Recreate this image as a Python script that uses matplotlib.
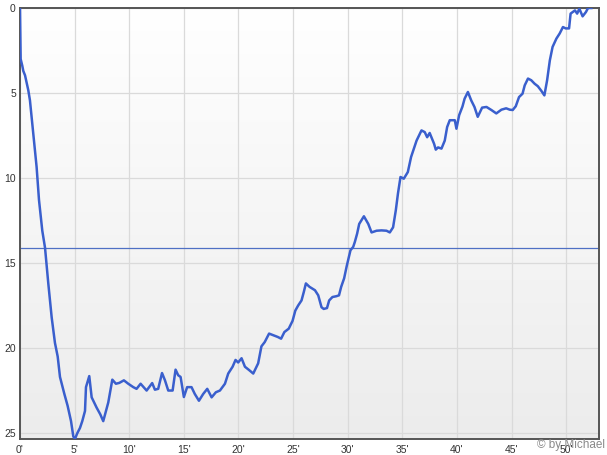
"""
Spielverlauf-Kurve (Minute gegen Rang), Nachbau
"""

import numpy as np
import matplotlib
matplotlib.use("Agg")
import matplotlib.pyplot as plt
from matplotlib.colors import LinearSegmentedColormap

# Minuten und Werte
minutes = [
    0.0, 0.03, 0.06, 0.21, 0.3, 0.46, 0.76, 0.91, 1.22, 1.52, 1.74, 2.04, 2.29,
    2.59, 2.9, 3.2, 3.45, 3.66, 4.06, 4.36, 4.67, 4.88, 5.03, 5.25, 5.49, 5.7,
    5.95, 6.04, 6.34, 6.56, 7.01, 7.35, 7.62, 8.08, 8.45, 8.78, 9.09, 9.51,
    9.91, 10.37, 10.67, 11.04, 11.59, 12.1, 12.35, 12.65, 13.0, 13.27, 13.57,
    13.97, 14.24, 14.48, 14.7, 15.0, 15.3, 15.7, 16.0, 16.38, 16.77, 17.14,
    17.54, 17.93, 18.3, 18.76, 19.06, 19.46, 19.73, 19.97, 20.28, 20.59, 20.98,
    21.35, 21.8, 22.1, 22.4, 22.8, 23.2, 23.6, 23.9, 24.2, 24.6, 24.95, 25.2,
    25.46, 25.77, 25.98, 26.17, 26.5, 27.0, 27.3, 27.6, 27.8, 28.1, 28.3, 28.6,
    28.97, 29.2, 29.4, 29.67, 29.9, 30.1, 30.25, 30.5, 30.65, 30.86, 31.05,
    31.48, 31.88, 32.18, 32.64, 33.09, 33.55, 33.85, 34.15, 34.4, 34.6, 34.83,
    35.13, 35.5, 35.8, 36.3, 36.75, 37.05, 37.27, 37.5, 37.9, 38.06, 38.27,
    38.58, 38.88, 39.1, 39.34, 39.8, 39.95, 40.2, 40.5, 40.7, 41.0, 41.3, 41.6,
    41.9, 42.3, 42.7, 43.15, 43.6, 44.07, 44.5, 44.83, 45.1, 45.38, 45.68,
    46.0, 46.2, 46.5, 46.8, 47.1, 47.4, 47.73, 48.0, 48.25, 48.5, 48.75, 49.1,
    49.4, 49.7, 49.95, 50.26, 50.4, 50.8, 51.0, 51.2, 51.5, 51.8, 52.0, 52.3,
]
values = [
    0.0, 1.5, 3.0, 3.4, 3.7, 3.96, 4.84, 5.43, 7.39, 9.35, 11.3, 13.1, 14.1,
    16.2, 18.2, 19.7, 20.5, 21.7, 22.7, 23.4, 24.3, 25.2, 25.35, 25.0, 24.7,
    24.3, 23.7, 22.3, 21.65, 22.9, 23.5, 23.9, 24.3, 23.2, 21.86, 22.1, 22.05,
    21.9, 22.1, 22.3, 22.4, 22.1, 22.5, 22.06, 22.45, 22.4, 21.47, 21.9, 22.5,
    22.5, 21.27, 21.6, 21.7, 22.88, 22.3, 22.3, 22.7, 23.1, 22.7, 22.4, 22.9,
    22.6, 22.5, 22.1, 21.5, 21.1, 20.7, 20.85, 20.6, 21.1, 21.3, 21.5, 20.9,
    19.9, 19.65, 19.15, 19.25, 19.35, 19.45, 19.06, 18.86, 18.4, 17.8, 17.5,
    17.2, 16.7, 16.2, 16.4, 16.6, 16.9, 17.6, 17.7, 17.65, 17.2, 17.0, 16.95,
    16.9, 16.4, 15.9, 15.2, 14.65, 14.25, 14.05, 13.76, 13.27, 12.7, 12.25,
    12.7, 13.2, 13.1, 13.08, 13.1, 13.2, 12.9, 11.9, 10.9, 9.94, 10.04, 9.65,
    8.76, 7.8, 7.2, 7.3, 7.6, 7.35, 7.98, 8.33, 8.2, 8.27, 7.8, 7.0, 6.6, 6.6,
    7.1, 6.3, 5.8, 5.33, 4.94, 5.43, 5.82, 6.4, 5.86, 5.82, 6.0, 6.2, 5.98,
    5.9, 5.98, 6.0, 5.78, 5.24, 5.04, 4.55, 4.15, 4.25, 4.45, 4.6, 4.88, 5.14,
    4.25, 3.08, 2.29, 1.8, 1.5, 1.12, 1.2, 1.2, 0.33, 0.14, 0.33, 0.04, 0.49,
    0.24, 0.0, 0.0,
]
mean_value = 14.12

x_ticks = [0, 5, 10, 15, 20, 25, 30, 35, 40, 45, 50]
x_labels = ["0'", "5'", "10'", "15'", "20'", "25'", "30'", "35'", "40'", "45'", "50'"]
y_ticks = [0, 5, 10, 15, 20, 25]
y_labels = ["0", "5", "10", "15", "20", "25"]

plt.rcParams['font.family'] = ['Liberation Sans', 'DejaVu Sans']

fig = plt.figure(figsize=(6.07, 4.55), dpi=100)
ax = fig.add_axes([20 / 607, 1 - 439 / 455, 579 / 607, 431 / 455])

x_min, x_max = 0, 53.0
y_top, y_bottom = 0, 25.35

# Hintergrund: Verlauf von weiss (oben) nach hellgrau (unten)
grad = np.linspace(0, 1, 256).reshape(-1, 1)
cmap = LinearSegmentedColormap.from_list("bg", ["#ffffff", "#ececec"])
ax.imshow(grad, cmap=cmap, aspect='auto', extent=[x_min, x_max, y_bottom, y_top],
          zorder=0, interpolation='bilinear')

for xt in x_ticks:
    ax.axvline(xt, color='#dadada', linewidth=0.9, zorder=1)
for yt in y_ticks:
    ax.axhline(yt, color='#dadada', linewidth=0.9, zorder=1)

ax.axhline(mean_value, color='#4f70c4', linewidth=0.9, zorder=2)
ax.plot(minutes, values, color='#3a5fcd', linewidth=1.8, zorder=3,
        solid_joinstyle='round')

ax.set_xlim(x_min, x_max)
ax.set_ylim(y_bottom, y_top)

ax.set_xticks(x_ticks)
ax.set_xticklabels(x_labels)
ax.set_yticks(y_ticks)
ax.set_yticklabels(y_labels)
ax.tick_params(length=0, labelsize=7.5, colors='#333333', pad=4)
ax.tick_params(axis='y', pad=3)

for side in ['left', 'bottom', 'top', 'right']:
    ax.spines[side].set_color('#555555')
    ax.spines[side].set_linewidth(1.4)

# Wasserzeichen unten rechts (liegt wie im Original ueber der 50'-Marke)
fig.text(0.997, 0.008, "© by Michael", ha='right', va='bottom',
         fontsize=8.5, color='#8a8a8a')

fig.savefig("out.png", dpi=100)
